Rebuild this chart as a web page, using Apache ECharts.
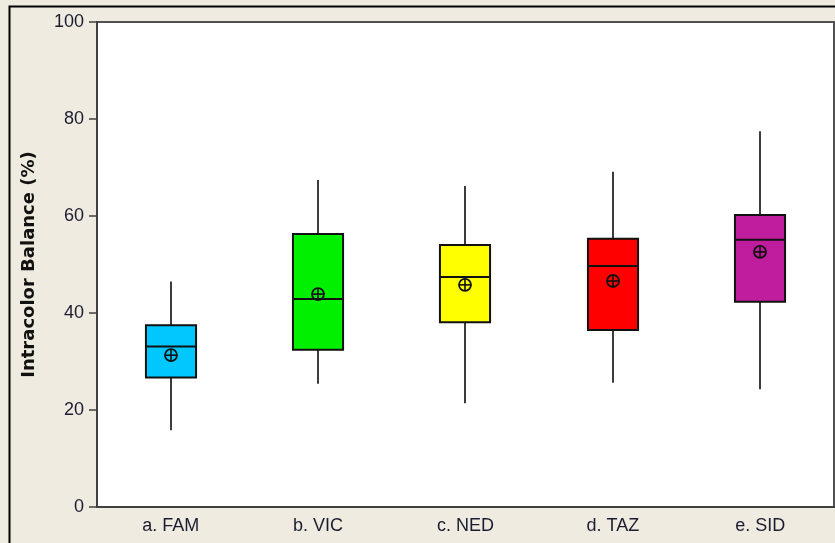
<!DOCTYPE html>
<html>
<head>
<meta charset="utf-8">
<script src="https://cdn.jsdelivr.net/npm/echarts@6/dist/echarts.min.js"></script>
<style>
html,body{margin:0;padding:0;background:#efebe1;}
#c{width:835px;height:543px;}
</style>
</head>
<body>
<div id="c"></div>
<script>
const categories = ['a. FAM', 'b. VIC', 'c. NED', 'd. TAZ', 'e. SID'];
const whiskerLow = [15.8, 25.4, 21.4, 25.6, 24.3];
const q1 = [26.7, 32.4, 38.1, 36.5, 42.3];
const median = [33.1, 42.9, 47.4, 49.7, 55.1];
const q3 = [37.5, 56.3, 54.0, 55.3, 60.2];
const whiskerHigh = [46.5, 67.4, 66.2, 69.1, 77.5];
const mean = [31.3, 43.9, 45.8, 46.6, 52.6];
const yTicks = [0, 20, 40, 60, 80, 100];
const boxColors = ['#00c8ff', '#00f000', '#ffff00', '#ff0000', '#c01c9e'];

const rows = categories.map((c, i) => [i, whiskerLow[i], q1[i], median[i], q3[i], whiskerHigh[i], mean[i]]);

const chart = echarts.init(document.getElementById('c'), null, {renderer: 'canvas'});

function renderBox(params, api) {
  const i = api.value(0);
  const pLow = api.coord([i, api.value(1)]);
  const pQ1 = api.coord([i, api.value(2)]);
  const pMed = api.coord([i, api.value(3)]);
  const pQ3 = api.coord([i, api.value(4)]);
  const pHigh = api.coord([i, api.value(5)]);
  const pMean = api.coord([i, api.value(6)]);
  const bw = api.size([1, 0])[0] * 0.34;
  const cx = Math.round(pQ1[0]);
  const xl = cx - bw / 2, xr = cx + bw / 2;
  const r = 6;
  return {
    type: 'group',
    children: [
      {type: 'line', shape: {x1: cx, y1: pLow[1], x2: cx, y2: pQ1[1]}, style: {stroke: '#3c3c3c', lineWidth: 2}},
      {type: 'line', shape: {x1: cx, y1: pQ3[1], x2: cx, y2: pHigh[1]}, style: {stroke: '#3c3c3c', lineWidth: 2}},
      {type: 'rect', shape: {x: xl, y: pQ3[1], width: bw, height: pQ1[1] - pQ3[1]},
        style: {fill: boxColors[i], stroke: '#111', lineWidth: 2}},
      {type: 'line', shape: {x1: xl, y1: pMed[1], x2: xr, y2: pMed[1]}, style: {stroke: '#111', lineWidth: 2}},
      {type: 'circle', shape: {cx: cx, cy: pMean[1], r: r}, style: {fill: 'none', stroke: '#111', lineWidth: 1.8}},
      {type: 'line', shape: {x1: cx - r, y1: pMean[1], x2: cx + r, y2: pMean[1]}, style: {stroke: '#111', lineWidth: 1.6}},
      {type: 'line', shape: {x1: cx, y1: pMean[1] - r, x2: cx, y2: pMean[1] + r}, style: {stroke: '#111', lineWidth: 1.6}}
    ]
  };
}

const option = {
  backgroundColor: '#efebe1',
  animation: false,
  graphic: [
    {type: 'rect', left: 7, top: 4, shape: {width: 900, height: 600},
      style: {fill: 'none', stroke: '#000', lineWidth: 2}, z: 100}
  ],
  grid: {
    left: 97, top: 22, right: 1, bottom: 36,
    show: true, backgroundColor: '#ffffff', borderColor: '#505050', borderWidth: 2
  },
  xAxis: {
    type: 'category',
    data: categories,
    boundaryGap: true,
    axisLine: {lineStyle: {color: '#404040', width: 2}},
    axisTick: {alignWithLabel: true, length: 6, lineStyle: {color: '#404040', width: 1.5}},
    axisLabel: {color: '#1c1c30', fontFamily: 'Liberation Sans', fontSize: 18, margin: 10},
    splitLine: {show: false}
  },
  yAxis: {
    type: 'value',
    min: 0, max: 100, interval: 20,
    name: 'Intracolor Balance (%)',
    nameLocation: 'middle',
    nameGap: 59,
    nameTextStyle: {color: '#111', fontFamily: 'DejaVu Sans', fontWeight: 'bold', fontSize: 18},
    axisLine: {show: true, lineStyle: {color: '#404040', width: 2}},
    axisTick: {show: true, length: 8, lineStyle: {color: '#404040', width: 1.5}},
    axisLabel: {color: '#1c1c30', fontFamily: 'Liberation Sans', fontSize: 18, margin: 13,
      formatter: v => yTicks.includes(v) ? String(v) : ''},
    splitLine: {show: false}
  },
  series: [{
    type: 'custom',
    renderItem: renderBox,
    data: rows,
    encode: {x: 0, y: [1, 2, 3, 4, 5, 6]},
    clip: false
  }]
};
chart.setOption(option);
</script>
</body>
</html>
